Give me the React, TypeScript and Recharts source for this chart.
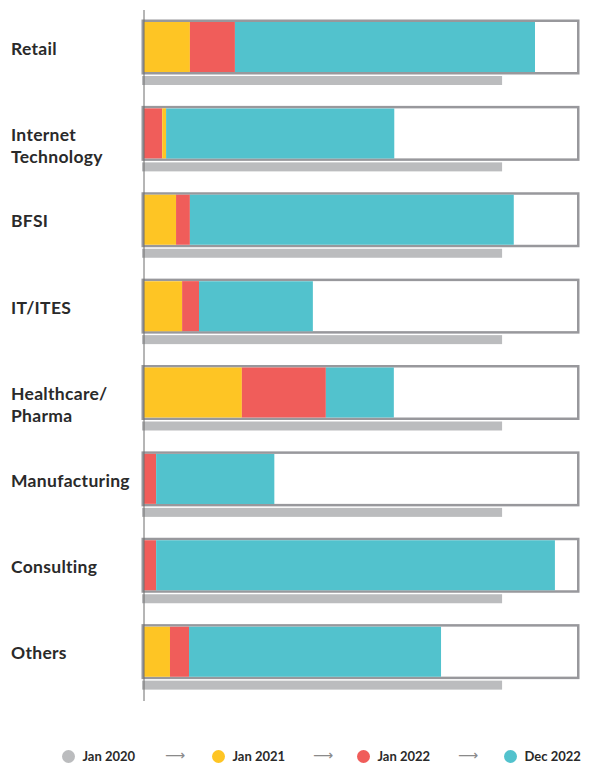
import React from 'react';
import { BarChart, Bar, XAxis, YAxis, Cell } from 'recharts';

const categories = ['Retail', 'Internet\nTechnology', 'BFSI', 'IT/ITES', 'Healthcare/\nPharma', 'Manufacturing', 'Consulting', 'Others'];
const jan2020 = [82.7, 82.7, 82.7, 82.7, 82.7, 82.7, 82.7, 82.7];
const jan2021 = [10.6, 0.9, 7.4, 8.8, 22.6, 0, 0, 6.0];
const jan2022 = [10.4, 4.2, 3.2, 3.9, 19.4, 2.8, 2.8, 4.4];
const dec2022 = [69.3, 52.7, 74.8, 26.3, 15.7, 27.3, 92.1, 58.2];

const legendLabels = ['Jan 2020', 'Jan 2021', 'Jan 2022', 'Dec 2022'];

const COLORS: Record<string, string> = {
  jan2020: '#bbbcbe',
  jan2021: '#fec524',
  jan2022: '#f05d5a',
  dec2022: '#52c2cd',
};
const legendColors = [COLORS.jan2020, COLORS.jan2021, COLORS.jan2022, COLORS.dec2022];

// order of segments inside each bar (Internet Technology has the red one first)
const DEFAULT_ORDER = ['jan2021', 'jan2022', 'dec2022'];
const segmentOrder = [
  DEFAULT_ORDER,
  ['jan2022', 'jan2021', 'dec2022'],
  DEFAULT_ORDER,
  DEFAULT_ORDER,
  DEFAULT_ORDER,
  DEFAULT_ORDER,
  DEFAULT_ORDER,
  DEFAULT_ORDER,
];

const series: Record<string, number[]> = { jan2021, jan2022, dec2022 };

const data = categories.map((name, i) => {
  const row: any = { name, base: jan2020[i] };
  segmentOrder[i].forEach((key, j) => {
    row['s' + j] = series[key][i];
    row['c' + j] = COLORS[key];
  });
  return row;
});

const FONT = 'Lato, "Open Sans", sans-serif';

// outline drawn just outside the bar's background area so it never overlaps segments
const BoxOutline = (props: any) => {
  const { x, y, width, height, index } = props;
  const sw = 2.5;
  return (
    <rect
      key={`box-${index}`}
      x={x - sw / 2}
      y={y - sw / 2}
      width={width + sw}
      height={height + sw}
      fill="none"
      stroke="#98989c"
      strokeWidth={sw}
    />
  );
};

const BaseBar = (props: any) => {
  const { x, y, width, height } = props;
  return <rect x={x - 2} y={y} width={width + 2} height={height} fill={COLORS.jan2020} />;
};

const CategoryTick = (props: any) => {
  const { y, payload } = props;
  const lines = String(payload.value).split('\n');
  return (
    <text x={11} y={y + 1.5} fill="#2a2a2a" fontFamily={FONT} fontWeight={700} fontSize={17.5} letterSpacing={0.3}>
      {lines.map((line, i) => (
        <tspan key={i} x={11} dy={i === 0 ? 0 : 21.7}>
          {line}
        </tspan>
      ))}
    </text>
  );
};

const legendDots = [68, 218, 363, 510];
const legendArrows = [165, 313, 458];

export default function App() {
  return (
    <div style={{ position: 'absolute', left: 0, top: 0, width: 592, height: 764, background: '#fff', overflow: 'hidden' }}>
      <BarChart
        width={592}
        height={706}
        data={data}
        layout="vertical"
        margin={{ top: 10, right: 15, bottom: 5, left: 0 }}
        barGap={4}
      >
        <XAxis type="number" domain={[0, 100]} hide />
        <YAxis
          type="category"
          dataKey="name"
          width={144}
          axisLine={{ stroke: '#6d6d6d', strokeWidth: 1 }}
          tickLine={false}
          tick={<CategoryTick />}
          interval={0}
        />
        <Bar dataKey="s0" stackId="a" barSize={50} isAnimationActive={false}>
          {data.map((d, i) => (
            <Cell key={i} fill={d.c0} />
          ))}
        </Bar>
        <Bar dataKey="s1" stackId="a" barSize={50} isAnimationActive={false}>
          {data.map((d, i) => (
            <Cell key={i} fill={d.c1} />
          ))}
        </Bar>
        <Bar dataKey="s2" stackId="a" barSize={50} background={BoxOutline} isAnimationActive={false}>
          {data.map((d, i) => (
            <Cell key={i} fill={d.c2} />
          ))}
        </Bar>
        <Bar dataKey="base" stackId="b" barSize={9} fill={COLORS.jan2020} shape={BaseBar} isAnimationActive={false} />
      </BarChart>

      {legendLabels.map((label, i) => (
        <div
          key={label}
          style={{ position: 'absolute', left: legendDots[i] - 6.5, top: 750, display: 'flex', alignItems: 'center', whiteSpace: 'nowrap' }}
        >
          <span style={{ width: 13, height: 13, borderRadius: '50%', background: legendColors[i], display: 'inline-block' }} />
          <span style={{ marginLeft: 8, fontFamily: FONT, fontWeight: 700, fontSize: 13, color: '#2a2a2a', lineHeight: '13px' }}>{label}</span>
        </div>
      ))}
      {legendArrows.map((ax, i) => (
        <div
          key={i}
          style={{ position: 'absolute', left: ax, top: 747, fontFamily: '"DejaVu Sans", sans-serif', fontSize: 14, color: '#8a8a8a', lineHeight: '16px' }}
        >
          ⟶
        </div>
      ))}
    </div>
  );
}
